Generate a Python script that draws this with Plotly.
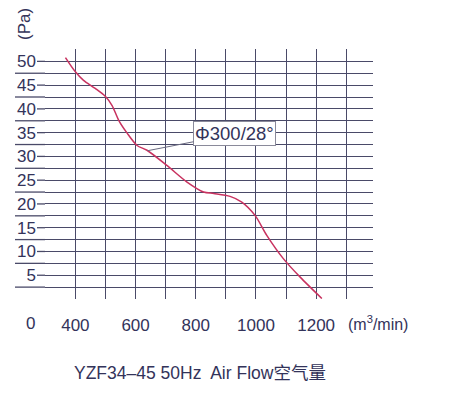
import plotly.graph_objects as go

# ---- data ----
air_flow = [367, 400, 427, 466, 500, 522, 544, 572, 605, 638, 704, 771, 826,
            860, 914, 953, 997, 1036, 1091, 1147, 1219]
pressure = [50.8, 47.8, 46.0, 44.3, 42.6, 40.7, 37.6, 34.9, 32.3, 31.3, 28.1,
            24.6, 22.5, 22.2, 21.6, 20.4, 17.6, 13.4, 8.5, 4.6, 0.1]
x_ticks = [400, 600, 800, 1000, 1200]
x_minor = [300, 500, 700, 900, 1100, 1300]
y_ticks = [5, 10, 15, 20, 25, 30, 35, 40, 45, 50]
y_minor = [2.5, 7.5, 12.5, 17.5, 22.5, 27.5, 32.5, 37.5, 42.5, 47.5, 52.5]
series_label = "Φ300/28°"
title_text = "YZF34–45 50Hz  Air Flow空气量"

FONT = "Liberation Sans, Arial, Noto Sans CJK SC, sans-serif"
TXT = "#33335a"
GRID = "#4a4a68"

W, H = 461, 393
L, R, T, B = 45, 88, 49, 94
plot_w = W - L - R
plot_h = H - T - B


def px_x(px):
    return (px - L) / plot_w


def px_y(py):
    return (H - B - py) / plot_h


fig = go.Figure()
fig.add_trace(go.Scatter(
    x=air_flow, y=pressure, mode="lines",
    line=dict(color="#c8325f", width=1.5, shape="spline", smoothing=0.8),
    hoverinfo="skip", showlegend=False,
))

grid_style = dict(showgrid=True, gridcolor=GRID, gridwidth=1.3)

fig.update_layout(
    width=W, height=H,
    margin=dict(l=L, r=R, t=T, b=B),
    paper_bgcolor="white", plot_bgcolor="white",
    font=dict(family=FONT, color=TXT, size=17),
    xaxis=dict(
        range=[299, 1389], tickmode="array", tickvals=x_ticks,
        minor=dict(tickmode="array", tickvals=x_minor, ticks="", **grid_style),
        zeroline=False, showline=False, ticks="",
        ticklabelstandoff=14, tickfont=dict(size=17, color=TXT), **grid_style,
    ),
    yaxis=dict(
        range=[0, 52.6], tickmode="array", tickvals=y_ticks,
        minor=dict(tickmode="array", tickvals=y_minor, ticks="", **grid_style),
        zeroline=False, showline=False, ticks="",
        ticklabelstandoff=8, tickfont=dict(size=17, color=TXT), **grid_style,
    ),
)

# left extensions of horizontal grid lines
for v in y_ticks + y_minor:
    if v >= 52.5:
        continue
    x0 = -8 / plot_w if v in y_ticks else -30 / plot_w
    fig.add_shape(type="line", xref="paper", yref="y", x0=x0, x1=0, y0=v, y1=v,
                  line=dict(color=GRID, width=1.3), layer="below")

# "0" at origin of x labels
fig.add_annotation(x=px_x(30), y=px_y(323), xref="paper", yref="paper", text="0",
                   showarrow=False, xanchor="center", yanchor="middle",
                   font=dict(size=17, color=TXT))
# axis units
fig.add_annotation(x=px_x(346), y=px_y(323), xref="paper", yref="paper",
                   text="(m<sup>3</sup>/min)", showarrow=False, xanchor="left",
                   yanchor="middle", font=dict(size=16, color=TXT))
fig.add_annotation(x=px_x(25), y=px_y(24), xref="paper", yref="paper", text="(Pa)",
                   showarrow=False, textangle=-90, xanchor="center",
                   yanchor="middle", font=dict(size=17, color=TXT))
# series label with leader line
fig.add_annotation(x=640, y=31.2, xref="x", yref="y", text=series_label,
                   showarrow=True, arrowhead=0, arrowwidth=1, arrowcolor="#6a6a80",
                   ax=87, ay=-17, bordercolor="#8a8a9a", borderwidth=1,
                   borderpad=1, bgcolor="white", font=dict(size=18.5, color=TXT))
# bottom caption
fig.add_annotation(x=px_x(200), y=px_y(373), xref="paper", yref="paper",
                   text=title_text, showarrow=False, xanchor="center",
                   yanchor="middle", font=dict(size=17.5, color=TXT))

fig.write_html("out.html")
